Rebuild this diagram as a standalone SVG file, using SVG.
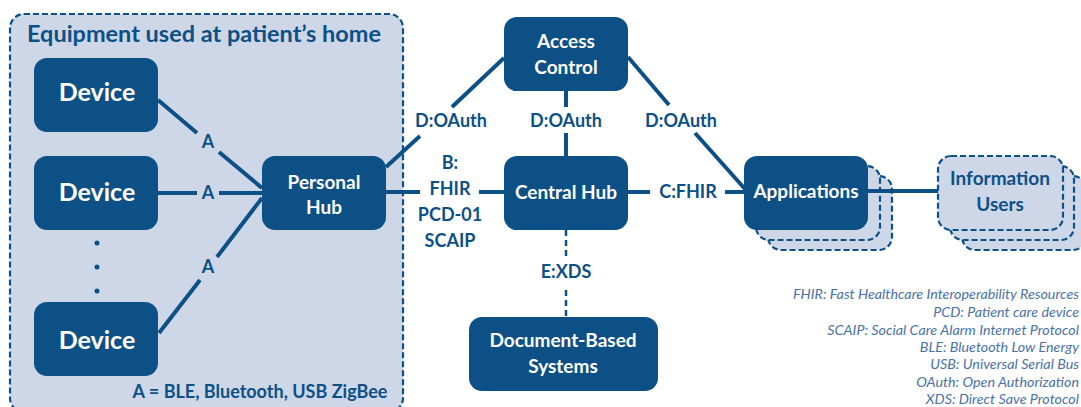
<svg xmlns="http://www.w3.org/2000/svg" width="1081" height="407" viewBox="0 0 1081 407">
<style>
.node{fill:#0d5086}
.light{fill:#cdd7e8;stroke:#0d5086;stroke-width:2.2;stroke-dasharray:6 3}
.wt{fill:#fff;font-family:Lato,"Open Sans",sans-serif;font-weight:bold;text-anchor:middle}
.bt{fill:#0d5086;font-family:Lato,"Open Sans",sans-serif;font-weight:bold;text-anchor:middle}
.ln{stroke:#0d5086;stroke-width:4;fill:none;stroke-linecap:butt}
.leg{fill:#4a72a6;font-family:Lato,"Open Sans",sans-serif;font-style:italic;font-weight:normal;font-size:14.3px;text-anchor:end}
</style>
<rect width="1081" height="407" fill="#fff"/>
<g id="home">
<rect x="10" y="14" width="393" height="398" rx="14" class="light"/>
<text x="27" y="42" class="bt" style="text-anchor:start;font-size:22px" textLength="354" lengthAdjust="spacingAndGlyphs">Equipment used at patient’s home</text>
<text x="260" y="398" class="bt" style="font-size:18px">A = BLE, Bluetooth, USB ZigBee</text>
<circle cx="97" cy="243" r="2.5" fill="#0d5086"/>
<circle cx="97" cy="267" r="2.5" fill="#0d5086"/>
<circle cx="97" cy="291" r="2.5" fill="#0d5086"/>
</g>
<g id="connectors">
<path class="ln" d="M158,100 L197,133 M219,152 L262,188"/>
<path class="ln" d="M158,193 L197,193 M219,193 L262,193"/>
<path class="ln" d="M159,333 L200,280 M217,257 L262,198"/>
<path class="ln" d="M386,167 L420,136 M452,107 L504,58"/>
<path class="ln" d="M566,91 L566,107 M566,133 L566,156"/>
<path class="ln" d="M628,57 L669,105 M695,133 L745,189"/>
<path class="ln" d="M386,192 L420,192 M479,192 L504,192"/>
<path class="ln" d="M628,192 L650,192 M725,192 L744,192"/>
<path class="ln" d="M566,230 L566,256 M566,290 L566,317" style="stroke-width:2.5;stroke-dasharray:6 4"/>
<text x="208" y="148" class="bt" style="font-size:18px">A</text>
<text x="208" y="199" class="bt" style="font-size:18px">A</text>
<text x="208" y="273" class="bt" style="font-size:18px">A</text>
<text x="451" y="127" class="bt" style="font-size:18px">D:OAuth</text>
<text x="566" y="127" class="bt" style="font-size:18px">D:OAuth</text>
<text x="681" y="127" class="bt" style="font-size:18px">D:OAuth</text>
<text x="450" y="169" class="bt" style="font-size:18px">B:</text>
<text x="450" y="195" class="bt" style="font-size:18px">FHIR</text>
<text x="450" y="221" class="bt" style="font-size:18px">PCD-01</text>
<text x="450" y="247" class="bt" style="font-size:18px">SCAIP</text>
<text x="688" y="198" class="bt" style="font-size:18px">C:FHIR</text>
<text x="566" y="278" class="bt" style="font-size:18px">E:XDS</text>
</g>
<g id="device1"><rect x="34" y="58" width="124" height="74" rx="13" class="node"/><text x="97" y="101" class="wt" style="font-size:25px">Device</text></g>
<g id="device2"><rect x="34" y="156" width="124" height="74" rx="13" class="node"/><text x="97" y="201" class="wt" style="font-size:25px">Device</text></g>
<g id="device3"><rect x="34" y="302" width="124" height="74" rx="13" class="node"/><text x="97" y="349" class="wt" style="font-size:25px">Device</text></g>
<g id="personal-hub"><rect x="262" y="156" width="124" height="74" rx="13" class="node"/><text x="324" y="189" class="wt" style="font-size:19px">Personal</text><text x="324" y="214" class="wt" style="font-size:19px">Hub</text></g>
<g id="access-control"><rect x="504" y="17" width="124" height="74" rx="13" class="node"/><text x="566" y="48" class="wt" style="font-size:19px">Access</text><text x="566" y="74" class="wt" style="font-size:19px">Control</text></g>
<g id="central-hub"><rect x="504" y="156" width="124" height="74" rx="13" class="node"/><text x="566" y="199" class="wt" style="font-size:19px">Central Hub</text></g>
<g id="document-systems"><rect x="469" y="317" width="189" height="74" rx="13" class="node"/><text x="563" y="347" class="wt" style="font-size:19px">Document-Based</text><text x="563" y="373" class="wt" style="font-size:19px">Systems</text></g>
<g id="applications">
<rect x="768" y="176" width="124" height="74" rx="13" class="light"/>
<rect x="756" y="166" width="124" height="74" rx="13" class="light"/>
<rect x="744" y="156" width="124" height="74" rx="13" class="node"/>
<text x="806" y="198" class="wt" style="font-size:19px">Applications</text>
</g>
<g id="information-users">
<rect x="962" y="176" width="124" height="74" rx="13" class="light"/>
<rect x="950" y="166" width="124" height="74" rx="13" class="light"/>
<rect x="938" y="156" width="125" height="74" rx="13" class="light"/>
<text x="1000" y="185" class="bt" style="font-size:19px">Information</text>
<text x="1000" y="211" class="bt" style="font-size:19px">Users</text>
</g>
<path class="ln" d="M868,191 L938,191"/>
<g id="legend">
<text x="1079" y="299" class="leg">FHIR: Fast Healthcare Interoperability Resources</text>
<text x="1079" y="317" class="leg">PCD: Patient care device</text>
<text x="1079" y="335" class="leg">SCAIP: Social Care Alarm Internet Protocol</text>
<text x="1079" y="352" class="leg">BLE: Bluetooth Low Energy</text>
<text x="1079" y="369" class="leg">USB: Universal Serial Bus</text>
<text x="1079" y="387" class="leg">OAuth: Open Authorization</text>
<text x="1079" y="404" class="leg">XDS: Direct Save Protocol</text>
</g>
</svg>
